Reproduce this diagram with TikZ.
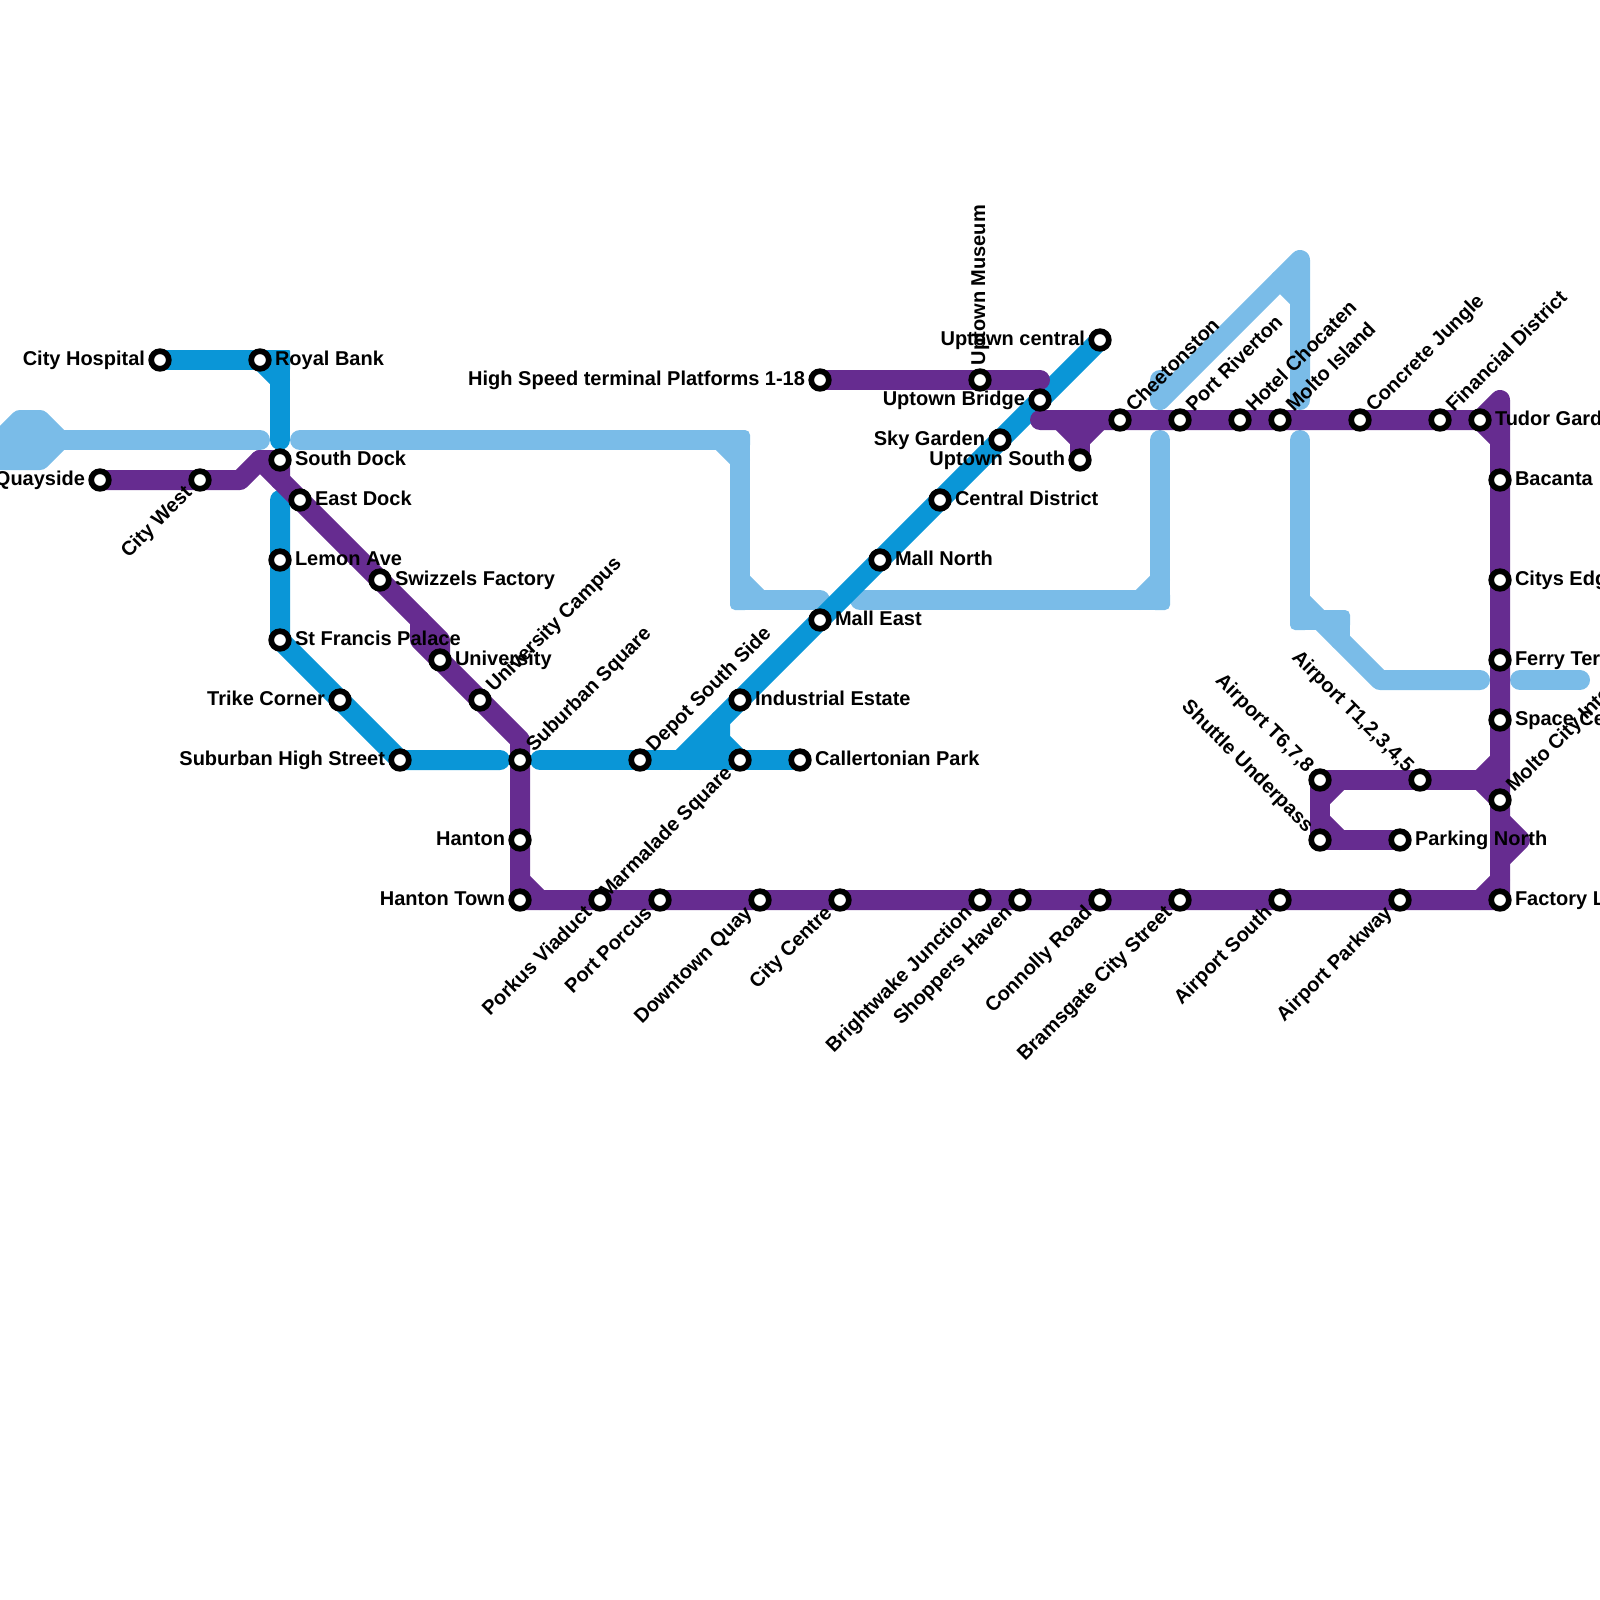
\documentclass[tikz,border=0pt]{standalone}
\usepackage{fontspec}
\setmainfont{Liberation Sans}
\usetikzlibrary{backgrounds}
\definecolor{lineL}{RGB}{122,188,232}
\definecolor{lineD}{RGB}{10,150,215}
\definecolor{lineP}{RGB}{102,44,144}
\tikzset{
  stn/.style={circle,draw=black,fill=white,line width=5.7pt,minimum size=17.6pt,inner sep=0pt,outer sep=0pt},
  lab/.style={inner sep=0pt,outer sep=0pt,font=\bfseries\fontsize{20}{22}\selectfont,text=black},
  route/.style={line width=20pt,line cap=round,line join=round},
  lightr/.style={route,draw=lineL},
  darkr/.style={route,draw=lineD},
  purpr/.style={route,draw=lineP},
  cornerbox/.style={minimum size=20pt,inner sep=0pt,outer sep=0pt,rounded corners=5pt},
}
\newcommand{\stopE}[5]{%
  \node[stn] (#1) at (#2,#3) {};
  \path (#1.center) ++(-#4:15) ++(90-#4:5) node[lab,rotate=#4,anchor=base west] (t#1) {#5};
}
\newcommand{\stopW}[5]{%
  \node[stn] (#1) at (#2,#3) {};
  \path (#1.center) ++(-#4:-15) ++(90-#4:5) node[lab,rotate=#4,anchor=base east] (t#1) {#5};
}
\begin{document}
\begin{tikzpicture}[x=1pt,y=-1pt]
\useasboundingbox (0,0) rectangle (1600,1600);
% bends of the routes
\foreach \n/\x/\y in {
  a1/20/420,a2/40/420,a3/60/440,a4/40/460,a5/0/460,a6/0/440,a7/260/440,
  b1/300/440,b2/740/440,b3/720/440,b4/740/460,b5/740/580,b6/740/600,b7/760/600,b8/820/600,
  c1/860/600,c2/1140/600,c3/1160/600,c4/1160/580,c5/1160/440,
  d1/1160/380,d2/1160/400,d3/1300/260,d4/1300/400,d5/1280/280,d6/1300/300,
  e1/1300/440,e2/1300/620,e3/1300/600,e4/1340/620,e5/1340/640,e6/1380/680,e7/1480/680,
  f1/1520/680,f2/1580/680,
  g1/280/360,g2/280/380,g3/280/440,h1/280/500,h2/500/760,h3/540/760,
  i1/680/760,i2/720/720,i3/720/740,i4/700/760,
  j1/240/480,j2/260/460,j3/280/460,j4/280/480,j5/420/620,j6/440/640,j7/420/640,j8/520/740,
  k1/520/880,k2/540/900,k3/1480/900,k4/1500/880,
  m1/1040/380,m2/1040/420,m3/1060/420,m4/1080/440,m5/1100/420,
  n1/1480/420,n2/1500/400,n3/1500/440,
  o1/1500/760,o2/1480/780,o3/1500/780,o4/1500/820,o5/1520/840,o6/1500/860,
  q1/1340/780,q2/1320/800,q3/1320/820,q4/1340/840,q5/1500/900}
  {\coordinate (\n) at (\x,\y);}
% stations and their labels
\stopW{quay}{100}{480}{0}{Quayside}
\stopW{cwest}{200}{480}{45}{City West}
\stopW{chosp}{160}{360}{0}{City Hospital}
\stopE{royal}{260}{360}{0}{Royal Bank}
\stopE{sdock}{280}{460}{0}{South Dock}
\stopE{edock}{300}{500}{0}{East Dock}
\stopE{lemon}{280}{560}{0}{Lemon Ave}
\stopE{swizz}{380}{580}{0}{Swizzels Factory}
\stopE{stfr}{280}{640}{0}{St Francis Palace}
\stopE{univ}{440}{660}{0}{University}
\stopE{ucamp}{480}{700}{45}{University Campus}
\stopW{trike}{340}{700}{0}{Trike Corner}
\stopW{subhs}{400}{760}{0}{Suburban High Street}
\stopE{subsq}{520}{760}{45}{Suburban Square}
\stopW{hant}{520}{840}{0}{Hanton}
\stopW{hantt}{520}{900}{0}{Hanton Town}
\stopW{pork}{600}{900}{45}{Porkus Viaduct}
\stopW{porc}{660}{900}{45}{Port Porcus}
\stopW{dtq}{760}{900}{45}{Downtown Quay}
\stopW{ccen}{840}{900}{45}{City Centre}
\stopW{bright}{980}{900}{45}{Brightwake Junction}
\stopW{shop}{1020}{900}{45}{Shoppers Haven}
\stopW{conn}{1100}{900}{45}{Connolly Road}
\stopW{brams}{1180}{900}{45}{Bramsgate City Street}
\stopW{asou}{1280}{900}{45}{Airport South}
\stopW{apark}{1400}{900}{45}{Airport Parkway}
\stopE{fact}{1500}{900}{0}{Factory Lane}
\stopE{depot}{640}{760}{45}{Depot South Side}
\stopW{marm}{740}{760}{45}{Marmalade Square}
\stopE{call}{800}{760}{0}{Callertonian Park}
\stopE{indu}{740}{700}{0}{Industrial Estate}
\stopE{meast}{820}{620}{0}{Mall East}
\stopE{mnorth}{880}{560}{0}{Mall North}
\stopE{cdist}{940}{500}{0}{Central District}
\stopW{sky}{1000}{440}{0}{Sky Garden}
\stopW{ubr}{1040}{400}{0}{Uptown Bridge}
\stopW{ucen}{1100}{340}{0}{Uptown central}
\stopW{hs}{820}{380}{0}{High Speed terminal Platforms 1-18}
\stopE{umus}{980}{380}{90}{Uptown Museum}
\stopW{usou}{1080}{460}{0}{Uptown South}
\stopE{cheet}{1120}{420}{45}{Cheetonston}
\stopE{priv}{1180}{420}{45}{Port Riverton}
\stopE{hotel}{1240}{420}{45}{Hotel Chocaten}
\stopE{misl}{1280}{420}{45}{Molto Island}
\stopE{conc}{1360}{420}{45}{Concrete Jungle}
\stopE{fin}{1440}{420}{45}{Financial District}
\stopE{tudor}{1480}{420}{0}{Tudor Gardens}
\stopE{bac}{1500}{480}{0}{Bacanta}
\stopE{edge}{1500}{580}{0}{Citys Edge}
\stopE{ferry}{1500}{660}{0}{Ferry Terminal}
\stopE{space}{1500}{720}{0}{Space Centre}
\stopE{mcity}{1500}{800}{45}{Molto City International}
\stopE{park}{1400}{840}{0}{Parking North}
\stopW{shut}{1320}{840}{-45}{Shuttle Underpass}
\stopW{at678}{1320}{780}{-45}{Airport T6,7,8}
\stopW{at12}{1420}{780}{-45}{Airport T1,2,3,4,5}
% routes, behind the stations
\begin{pgfonlayer}{background}
  % light blue
  \draw[lightr,fill=lineL] (a1)--(a2)--(a3)--(a4)--(a5)--(a6)--cycle;
  \draw[lightr] (a3)--(a7);
  \draw[lightr] (b1)--(b2)--(b6)--(b8);
  \draw[lightr] (b3)--(b4);
  \draw[lightr] (b5)--(b7);
  \node[cornerbox,fill=lineL] (cb1) at (b6) {};
  \node[cornerbox,fill=lineL] (cb2) at (b2) {};
  \draw[lightr] (c1)--(c3)--(c5);
  \draw[lightr] (c2)--(c4);
  \node[cornerbox,fill=lineL] (cb3) at (c3) {};
  \draw[lightr] (d1)--(d2)--(d3)--(d4);
  \draw[lightr] (d5)--(d6);
  \draw[lightr] (e1)--(e2)--(e4)--(e5);
  \draw[lightr] (e3)--(e6)--(e7);
  \node[cornerbox,fill=lineL] (cb4) at (e2) {};
  \node[cornerbox,fill=lineL] (cb5) at (e4) {};
  \draw[lightr] (f1)--(f2);
  % dark blue
  \draw[darkr] (chosp.center)--(g1)--(g3);
  \draw[darkr] (royal.center)--(g2);
  \node[cornerbox,rounded corners=1pt,fill=lineD] (cb6) at (g1) {};
  \draw[darkr] (h1)--(stfr.center)--(subhs.center)--(h2);
  \draw[darkr] (h3)--(call.center);
  \draw[darkr] (i1)--(ucen.center);
  \draw[darkr] (i2)--(i3)--(marm.center);
  \draw[darkr] (i4)--(i3);
  % purple
  \draw[purpr] (quay.center)--(j1)--(j2)--(j3)--(j4);
  \draw[purpr] (j2)--(j6)--(univ.center);
  \draw[purpr] (j5)--(j7)--(j8)--(hantt.center)--(q5)--(n2)--(n1)--(m2);
  \draw[purpr] (n1)--(n3);
  \draw[purpr] (k1)--(k2);
  \draw[purpr] (k3)--(k4);
  \draw[purpr] (hs.center)--(m1);
  \draw[purpr] (m3)--(m4)--(m5);
  \draw[purpr] (m4)--(usou.center);
  \draw[purpr] (o1)--(o2)--(o3);
  \draw[purpr] (o2)--(mcity.center);
  \draw[purpr] (o4)--(o5)--(o6);
  \draw[purpr] (o2)--(at678.center)--(shut.center)--(park.center);
  \draw[purpr] (q1)--(q2);
  \draw[purpr] (q3)--(q4);
\end{pgfonlayer}
\end{tikzpicture}
\end{document}
